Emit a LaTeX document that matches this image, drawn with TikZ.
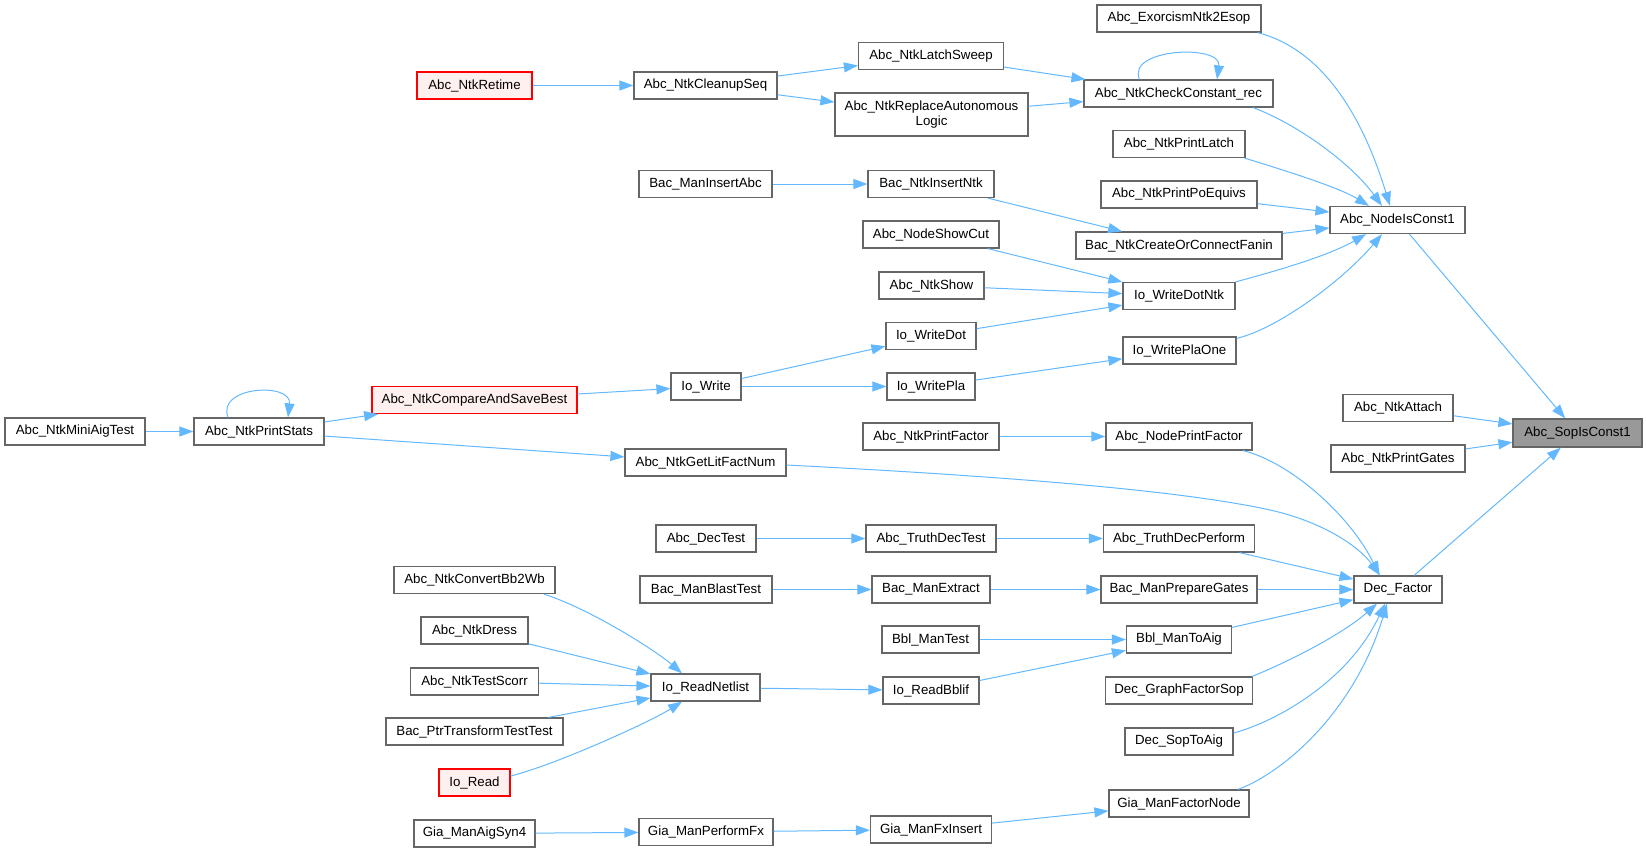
\documentclass[tikz,border=0pt]{standalone}
\usepackage{fontspec}
\setmainfont{Liberation Sans}
\usetikzlibrary{arrows.meta}
\definecolor{edgec}{HTML}{63B8FF}
\definecolor{bord}{HTML}{666666}
\definecolor{redb}{HTML}{FF0000}
\definecolor{redf}{HTML}{FFF0F0}
\definecolor{grayf}{HTML}{999999}
\begin{document}
\begin{tikzpicture}[x=1pt,y=-1pt,
  fn/.style={draw=bord, line width=1.2pt, fill=white, minimum height=27pt, inner sep=0pt, font=\fontsize{13.3}{15.5}\selectfont},
  redfn/.style={fn, draw=redb, fill=redf},
  curfn/.style={fn, fill=grayf},
  e/.style={draw=edgec, line width=1pt, -{Triangle[length=14pt,width=10pt]}}]
\useasboundingbox (0,0) rectangle (1646,852);
% nodes
\node[redfn, minimum width=115pt] (ret) at (474.5,85.5) {Abc\_NtkRetime};
\node[fn, minimum width=143pt] (cls) at (705.5,85.5) {Abc\_NtkCleanupSeq};
\node[fn, minimum width=133pt] (mia) at (705.5,184) {Bac\_ManInsertAbc};
\node[redfn, minimum width=205pt] (cmp) at (474.5,400) {Abc\_NtkCompareAndSaveBest};
\node[fn, minimum width=70pt] (iow) at (706,386.5) {Io\_Write};
\node[fn, minimum width=130pt] (ps) at (259,431.5) {Abc\_NtkPrintStats};
\node[fn, minimum width=140pt] (mat) at (75,431.5) {Abc\_NtkMiniAigTest};
\node[fn, minimum width=164pt] (exo) at (1179,18.5) {Abc\_ExorcismNtk2Esop};
\node[fn, minimum width=145pt] (lsw) at (931,56) {Abc\_NtkLatchSweep};
\node[fn, minimum width=189pt] (ck) at (1178.5,93.5) {Abc\_NtkCheckConstant\_rec};
\node[fn, minimum width=193pt, minimum height=43pt, align=center] (ral) at (931.5,114.5) {Abc\_NtkReplaceAutonomous\\Logic};
\node[fn, minimum width=132pt] (pl) at (1179,144) {Abc\_NtkPrintLatch};
\node[fn, minimum width=126pt] (ins) at (931,184) {Bac\_NtkInsertNtk};
\node[fn, minimum width=156pt] (ppe) at (1179,194.5) {Abc\_NtkPrintPoEquivs};
\node[fn, minimum width=135pt] (nic) at (1397.5,220) {Abc\_NodeIsConst1};
\node[fn, minimum width=206pt] (ccf) at (1179,245.5) {Bac\_NtkCreateOrConnectFanin};
\node[fn, minimum width=136pt] (nsc) at (931,234.5) {Abc\_NodeShowCut};
\node[fn, minimum width=105pt] (nsh) at (931.5,285.5) {Abc\_NtkShow};
\node[fn, minimum width=112pt] (wdn) at (1179,296) {Io\_WriteDotNtk};
\node[fn, minimum width=90pt] (wd) at (931,336) {Io\_WriteDot};
\node[fn, minimum width=113pt] (wpo) at (1179.5,350.5) {Io\_WritePlaOne};
\node[fn, minimum width=88pt] (wp) at (931,386.5) {Io\_WritePla};
\node[fn, minimum width=110pt] (att) at (1398,408) {Abc\_NtkAttach};
\node[curfn, minimum width=129pt, minimum height=28pt] (sop) at (1577.5,433) {Abc\_SopIsConst1};
\node[fn, minimum width=161pt] (glf) at (705.5,462.5) {Abc\_NtkGetLitFactNum};
\node[fn, minimum width=100pt] (dt) at (706,538.5) {Abc\_DecTest};
\node[fn, minimum width=132pt] (mbt) at (706,589.5) {Bac\_ManBlastTest};
\node[fn, minimum width=161pt] (cbw) at (474.5,580) {Abc\_NtkConvertBb2Wb};
\node[fn, minimum width=107pt] (drs) at (474.5,630.5) {Abc\_NtkDress};
\node[fn, minimum width=128pt] (tsc) at (474.5,681.5) {Abc\_NtkTestScorr};
\node[fn, minimum width=177pt] (ptt) at (474.5,731.5) {Bac\_PtrTransformTestTest};
\node[redfn, minimum width=71pt] (ird) at (474.5,782.5) {Io\_Read};
\node[fn, minimum width=109pt] (rnl) at (705.5,687.5) {Io\_ReadNetlist};
\node[fn, minimum width=121pt] (syn) at (474.5,833.5) {Gia\_ManAigSyn4};
\node[fn, minimum width=134pt] (pfx) at (706,832) {Gia\_ManPerformFx};
\node[fn, minimum width=136pt] (ptf) at (931,436.5) {Abc\_NtkPrintFactor};
\node[fn, minimum width=146pt] (npf) at (1179,436.5) {Abc\_NodePrintFactor};
\node[fn, minimum width=134pt] (pg) at (1398,458.5) {Abc\_NtkPrintGates};
\node[fn, minimum width=130pt] (tdt) at (931,538.5) {Abc\_TruthDecTest};
\node[fn, minimum width=151pt] (tdp) at (1179,538.5) {Abc\_TruthDecPerform};
\node[fn, minimum width=118pt] (mex) at (931,589.5) {Bac\_ManExtract};
\node[fn, minimum width=156pt] (mpg) at (1179,589.5) {Bac\_ManPrepareGates};
\node[fn, minimum width=88pt] (dec) at (1398,589.5) {Dec\_Factor};
\node[fn, minimum width=97pt] (bmt) at (930.5,639.5) {Bbl\_ManTest};
\node[fn, minimum width=105pt] (bta) at (1179,639.5) {Bbl\_ManToAig};
\node[fn, minimum width=96pt] (rbb) at (931,690.5) {Io\_ReadBblif};
\node[fn, minimum width=147pt] (gfs) at (1179,690.5) {Dec\_GraphFactorSop};
\node[fn, minimum width=108pt] (sta) at (1179,741.5) {Dec\_SopToAig};
\node[fn, minimum width=140pt] (gfn) at (1179,803.5) {Gia\_ManFactorNode};
\node[fn, minimum width=121pt] (fxi) at (931,829.5) {Gia\_ManFxInsert};
% straight edges
\draw[e] (ret) -- (cls);
\draw[e] (cls) -- (lsw);
\draw[e] (cls) -- (ral);
\draw[e] (lsw) -- (ck);
\draw[e] (ral) -- (ck);
\draw[e] (ppe) -- (nic);
\draw[e] (ccf) -- (nic);
\draw[e] (mia) -- (ins);
\draw[e] (ins) -- (ccf);
\draw[e] (nsc) -- (wdn);
\draw[e] (nsh) -- (wdn);
\draw[e] (wd) -- (wdn);
\draw[e] (iow) -- (wd);
\draw[e] (iow) -- (wp);
\draw[e] (wp) -- (wpo);
\draw[e] (cmp) -- (iow);
\draw[e] (ps) -- (cmp);
\draw[e] (mat) -- (ps);
\draw[e] (ps) -- (glf);
\draw[e] (nic) -- (sop);
\draw[e] (att) -- (sop);
\draw[e] (pg) -- (sop);
\draw[e] (dec) -- (sop);
\draw[e] (ptf) -- (npf);
\draw[e] (dt) -- (tdt);
\draw[e] (tdt) -- (tdp);
\draw[e] (tdp) -- (dec);
\draw[e] (mbt) -- (mex);
\draw[e] (mex) -- (mpg);
\draw[e] (mpg) -- (dec);
\draw[e] (bmt) -- (bta);
\draw[e] (rbb) -- (bta);
\draw[e] (bta) -- (dec);
\draw[e] (rnl) -- (rbb);
\draw[e] (drs) -- (rnl);
\draw[e] (tsc) -- (rnl);
\draw[e] (ptt) -- (rnl);
\draw[e] (syn) -- (pfx);
\draw[e] (pfx) -- (fxi);
\draw[e] (fxi) -- (gfn);
% curved edges
\draw[e] ([xshift=74.5pt]ck.south) .. controls (1295,123) and (1350,162) .. ([xshift=-15.5pt]nic.north);
\draw[e] ([xshift=-4pt]exo.south east) .. controls (1318,48) and (1360,108) .. ([xshift=-7.5pt]nic.north);
\draw[e] ([xshift=-1pt]pl.south east) .. controls (1290,172) and (1340,188) .. ([xshift=-28.5pt]nic.north);
\draw[e] (wdn.north east) .. controls (1280,270) and (1330,255) .. ([xshift=-31.5pt]nic.south);
\draw[e] ([yshift=-2pt]wpo.north east) .. controls (1280,328) and (1345,278) .. ([xshift=-15.5pt]nic.south);
\draw[e] ([xshift=64pt]npf.south) .. controls (1290,462) and (1350,515) .. ([xshift=-18.5pt]dec.north);
\draw[e] ([yshift=-2.5pt]glf.east) .. controls (1000,476) and (1180,490) .. (1270,510) .. controls (1320,521) and (1358,545) .. ([xshift=-18pt]dec.north);
\draw[e] ([xshift=-1pt]gfs.north east) .. controls (1295,659) and (1345,632) .. ([xshift=-21pt]dec.south);
\draw[e] ([yshift=8.5pt]sta.east) .. controls (1275,722) and (1348,682) .. ([xshift=-13pt]dec.south);
\draw[e] ([xshift=59pt]gfn.north) .. controls (1285,772) and (1355,710) .. ([xshift=-11pt]dec.south);
\draw[e] ([xshift=69.5pt]cbw.south) .. controls (590,609) and (655,650) .. ([xshift=-23.5pt]rnl.north);
\draw[e] ([yshift=6.5pt]ird.east) .. controls (555,765) and (650,722) .. ([xshift=-23.5pt]rnl.south);
% self loops
\draw[e] ([xshift=-31pt]ps.north) .. controls (216,386) and (292,382) .. ([xshift=29pt]ps.north);
\draw[e] ([xshift=-39pt]ck.north) .. controls (1126,48) and (1222,44) .. ([xshift=38.5pt]ck.north);
\end{tikzpicture}
\end{document}
